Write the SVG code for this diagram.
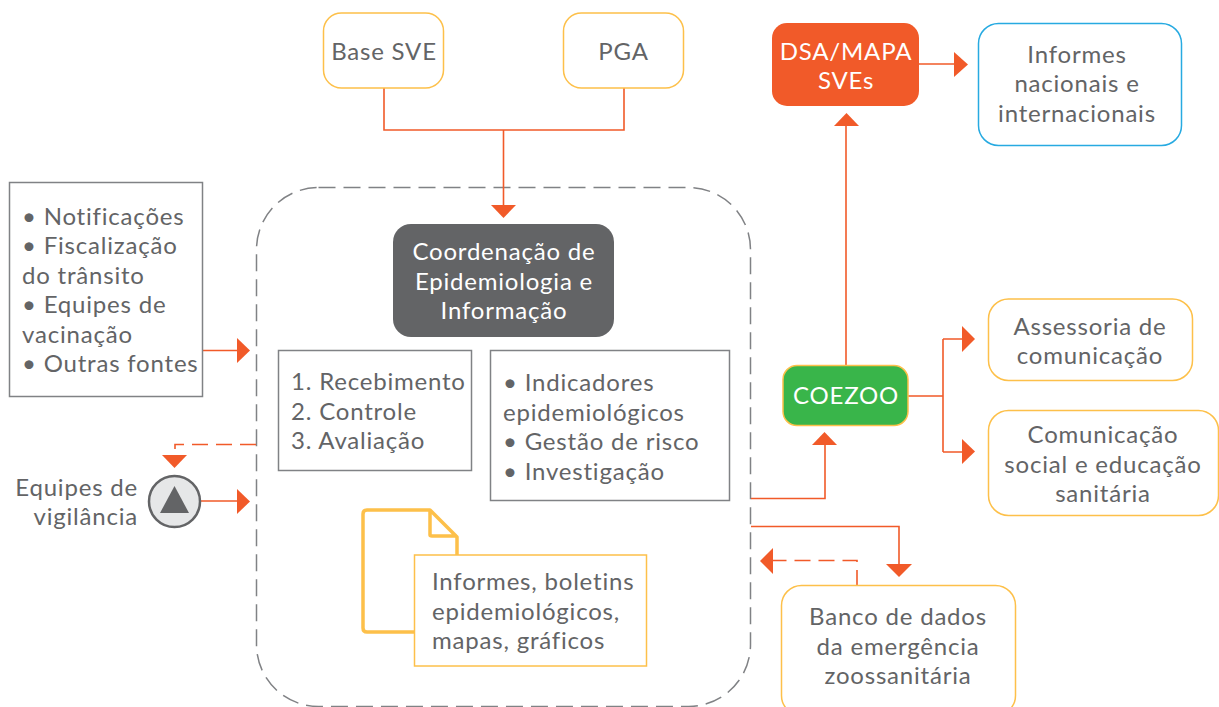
<svg xmlns="http://www.w3.org/2000/svg" width="1219" height="707" viewBox="0 0 1219 707">
<style>
text{font-family:"Lato","Liberation Sans",sans-serif;font-size:24px;fill:#636466;text-anchor:middle;letter-spacing:.8px}
.l{text-anchor:start}
.w{fill:#fff}
.y{fill:#fff;stroke:#fdc04a;stroke-width:1.5}
.g{fill:#fff;stroke:#808285;stroke-width:1.5}
.c{fill:none;stroke:#f15a29;stroke-width:1.6}
.d{fill:none;stroke:#f15a29;stroke-width:1.6;stroke-dasharray:16 8}
.a{fill:#f15a29;stroke:none}
</style>
<g id="container"><rect x="256.500" y="187.500" width="494" height="519" rx="62" fill="none" stroke="#808285" stroke-width="1.5" stroke-dasharray="17 8"/></g>
<g id="connectors">
<path class="c" d="M384 88V130H624V88M503.500 130V206"/><path class="a" d="M491 205H516L503.500 218Z"/>
<path class="c" d="M846 365V124"/><path class="a" d="M834 126H859L846.500 113Z"/>
<path class="c" d="M919 64H956"/><path class="a" d="M954 52V77L968 64.500Z"/>
<path class="c" d="M908 396H943M943 339V452M943 339H964M943 452H964"/><path class="a" d="M962 326V352L975 339Z"/><path class="a" d="M962 439V464L975 451.500Z"/>
<path class="c" d="M751 498.500H825V440"/><path class="a" d="M812 445H837L824.500 432Z"/>
<path class="c" d="M751 526.500H899V566"/><path class="a" d="M886 564H912L899 577Z"/>
<path class="d" d="M857 586V560.500H773"/><path class="a" d="M773 548V574L760 561Z"/>
<path class="c" d="M203 350.500H238"/><path class="a" d="M237 338V363L250 350.500Z"/>
<path class="c" d="M201 501H238"/><path class="a" d="M237 489V514L250 501.500Z"/>
<path class="d" d="M256 444.500H175V449"/><path class="a" d="M162 455H187L174.500 468Z"/>
</g>
<g id="base-sve"><rect class="y" x="323.500" y="13" width="120" height="75" rx="18"/><text x="384" y="60">Base SVE</text></g>
<g id="pga"><rect class="y" x="563.500" y="13" width="120" height="75" rx="18"/><text x="623.500" y="60">PGA</text></g>
<g id="dsa"><rect x="772" y="23" width="147" height="83" rx="15" fill="#f15a29"/><text class="w" x="846" y="60">DSA/MAPA</text><text class="w" x="846" y="89">SVEs</text></g>
<g id="informes-nacionais"><rect x="978.500" y="23.500" width="203" height="122" rx="20" fill="#fff" stroke="#27aae1" stroke-width="1.500"/><text x="1077" y="63">Informes</text><text x="1077" y="92">nacionais e</text><text x="1077" y="122">internacionais</text></g>
<g id="coordenacao"><rect x="393" y="224" width="221" height="113" rx="18" fill="#636466"/><text class="w" x="504" y="260">Coordenação de</text><text class="w" x="504" y="290">Epidemiologia e</text><text class="w" x="504" y="319">Informação</text></g>
<g id="fontes"><rect class="g" x="9.500" y="182.500" width="193" height="214"/><text class="l" x="22" y="225">• Notificações</text><text class="l" x="22" y="254">• Fiscalização</text><text class="l" x="22" y="284">do trânsito</text><text class="l" x="22" y="313">• Equipes de</text><text class="l" x="22" y="343">vacinação</text><text class="l" x="22" y="372">• Outras fontes</text></g>
<g id="etapas"><rect class="g" x="278.500" y="350.500" width="193" height="120"/><text class="l" x="291" y="390">1. Recebimento</text><text class="l" x="291" y="420">2. Controle</text><text class="l" x="291" y="449">3. Avaliação</text></g>
<g id="indicadores"><rect class="g" x="490.500" y="350.500" width="239" height="150"/><text class="l" x="503" y="391">• Indicadores</text><text class="l" x="503" y="421">epidemiológicos</text><text class="l" x="503" y="450">• Gestão de risco</text><text class="l" x="503" y="480">• Investigação</text></g>
<g id="equipes-vigilancia"><text x="138" y="496" style="text-anchor:end">Equipes de</text><text x="138" y="525" style="text-anchor:end">vigilância</text><circle cx="174.500" cy="501.500" r="25.500" fill="#e6e7e8" stroke="#636466" stroke-width="2.500"/><path d="M174.500 486L189 513H160Z" fill="#636466"/></g>
<g id="informes"><path d="M366 510H430L457 538V600H366Q363 631 366 631H420" fill="none"/><path d="M367 510H430L457 537V560M430 510V535Q430 536 432 536H457M415 632H367Q363 632 363 628V514Q363 510 367 510" fill="none" stroke="#fdc04a" stroke-width="3.500" stroke-linejoin="round"/><rect class="y" x="414.500" y="555" width="232" height="111"/><text class="l" x="432" y="590">Informes, boletins</text><text class="l" x="432" y="620">epidemiológicos,</text><text class="l" x="432" y="649">mapas, gráficos</text></g>
<g id="coezoo"><rect x="783" y="365.500" width="125" height="60" rx="14" fill="#39b54a" stroke="#fdc04a" stroke-width="1.500"/><text class="w" x="846" y="404">COEZOO</text></g>
<g id="assessoria"><rect class="y" x="988.500" y="299" width="204" height="81.500" rx="20"/><text x="1090" y="335">Assessoria de</text><text x="1090" y="364">comunicação</text></g>
<g id="comunicacao"><rect class="y" x="988.500" y="410.500" width="230" height="105" rx="20"/><text x="1103" y="443">Comunicação</text><text x="1103" y="473">social e educação</text><text x="1103" y="502">sanitária</text></g>
<g id="banco"><rect class="y" x="781.500" y="585.500" width="234" height="130" rx="20"/><text x="898" y="625">Banco de dados</text><text x="898" y="655">da emergência</text><text x="898" y="684">zoossanitária</text></g>
</svg>
